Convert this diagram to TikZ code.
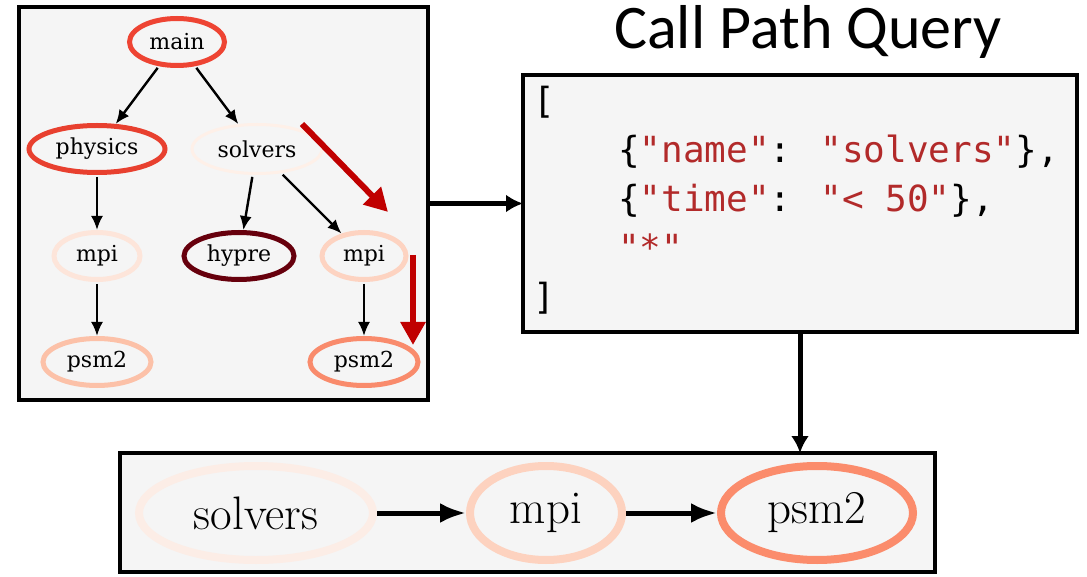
\documentclass[tikz,border=0pt]{standalone}
\usepackage{fontspec}
\newfontfamily\titlefont{Carlito}
\newfontfamily\codefont{DejaVu Sans Mono}
\newfontfamily\gfont{DejaVu Serif}
\usetikzlibrary{shapes.geometric,arrows.meta}
\definecolor{panelbg}{HTML}{F5F5F5}
\definecolor{codered}{HTML}{B22A2A}
\definecolor{arrowred}{HTML}{C00000}
\definecolor{cmain}{HTML}{EE4433}
\definecolor{cphys}{HTML}{E8402F}
\definecolor{csolv}{HTML}{FEF0E8}
\definecolor{cmpiL}{HTML}{FDE5DA}
\definecolor{chypre}{HTML}{67000D}
\definecolor{cmpiR}{HTML}{FDD3C1}
\definecolor{cpsmL}{HTML}{FCC1A8}
\definecolor{cpsmR}{HTML}{F98B6C}
\definecolor{bsolv}{HTML}{FCEDE6}
\definecolor{bmpi}{HTML}{FDD2BF}
\definecolor{bpsm}{HTML}{FB8C6C}
\newcommand\rs[1]{\textcolor{codered}{#1}}
\tikzset{
  panel/.style={draw=black, line width=4, fill=panelbg, rectangle, inner sep=0, outer sep=0},
  gnode/.style={ellipse, inner sep=0, minimum height=47, line width=5, font=\gfont\fontsize{22}{25}\selectfont},
  bnode/.style={ellipse, inner sep=0, minimum height=94, line width=8, font=\fontsize{47}{52}\selectfont},
  gedge/.style={draw=black, line width=2.4, shorten <=2, -{Latex[length=14,width=12]}},
  bigarrow/.style={draw=black, line width=5, -{Latex[length=17,width=18]}},
  barrow/.style={draw=black, line width=5, -{Latex[length=26,width=20]}},
  redarrow/.style={draw=arrowred, line width=6, -{Triangle[length=23,width=24]}},
  codetext/.style={anchor=base west, inner sep=0, font=\codefont\fontsize{36}{42}\selectfont},
}
\begin{document}
\begin{tikzpicture}[x=1pt,y=-1pt]
\useasboundingbox (0,0) rectangle (1087,577);
% panels
\node[panel, minimum width=409, minimum height=393] (gbox) at (223.5,203.5) {};
\node[panel, minimum width=554, minimum height=257] (code) at (800,203.5) {};
\node[panel, minimum width=815, minimum height=119] (bbox) at (527.5,512.5) {};
% title
\node[font=\titlefont\fontsize{62}{68}\selectfont, inner sep=0] (title) at (808,32) {Call Path Query};
% left graph
\node[gnode, draw=cmain, minimum width=95] (main) at (177,42) {main};
\node[gnode, draw=cphys, minimum width=136] (physics) at (97,149) {physics};
\node[gnode, draw=csolv, line width=3, minimum width=130, minimum height=49] (solvers) at (257,149) {solvers};
\node[gnode, draw=cmpiL, minimum width=86] (mpiL) at (97,256) {mpi};
\node[gnode, draw=chypre, minimum width=110] (hypre) at (239,256) {hypre};
\node[gnode, draw=cmpiR, minimum width=84] (mpiR) at (364,256) {mpi};
\node[gnode, draw=cpsmL, minimum width=108] (psmL) at (97,362) {psm2};
\node[gnode, draw=cpsmR, minimum width=108] (psmR) at (364,362) {psm2};
\draw[gedge] (main) -- (physics);
\draw[gedge] (main) -- (solvers);
\draw[gedge] (physics) -- (mpiL);
\draw[gedge] (solvers) -- (hypre);
\draw[gedge] (solvers) -- (mpiR);
\draw[gedge] (mpiL) -- (psmL);
\draw[gedge] (mpiR) -- (psmR);
% red path arrows
\coordinate (r1a) at (302,124);
\coordinate (r1b) at (388,212);
\coordinate (r2a) at (413,255);
\coordinate (r2b) at (413,345);
\draw[redarrow] (r1a) -- (r1b);
\draw[redarrow] (r2a) -- (r2b);
% code
\node[codetext] (l1) at (533,114) {[};
\node[codetext] (l2) at (618,163) {\{\rs{"name"}: \rs{"solvers"}\},};
\node[codetext] (l3) at (618,212) {\{\rs{"time"}: \rs{"< 50"}\},};
\node[codetext] (l4) at (618,261) {\rs{"*"}};
\node[codetext] (l5) at (533,310) {]};
% connecting arrows
\draw[bigarrow] (gbox.east) -- (code.west);
\draw[bigarrow] (code.south) -- (code.south |- bbox.north);
% bottom result
\node[bnode, draw=bsolv, minimum width=234] (bsolvers) at (256,513) {solvers};
\node[bnode, draw=bmpi, minimum width=152] (bmpi) at (546,513) {mpi};
\node[bnode, draw=bpsm, minimum width=192] (bpsm) at (817,513) {psm2};
\draw[barrow] (bsolvers) -- (bmpi);
\draw[barrow] (bmpi) -- (bpsm);
\end{tikzpicture}
\end{document}
